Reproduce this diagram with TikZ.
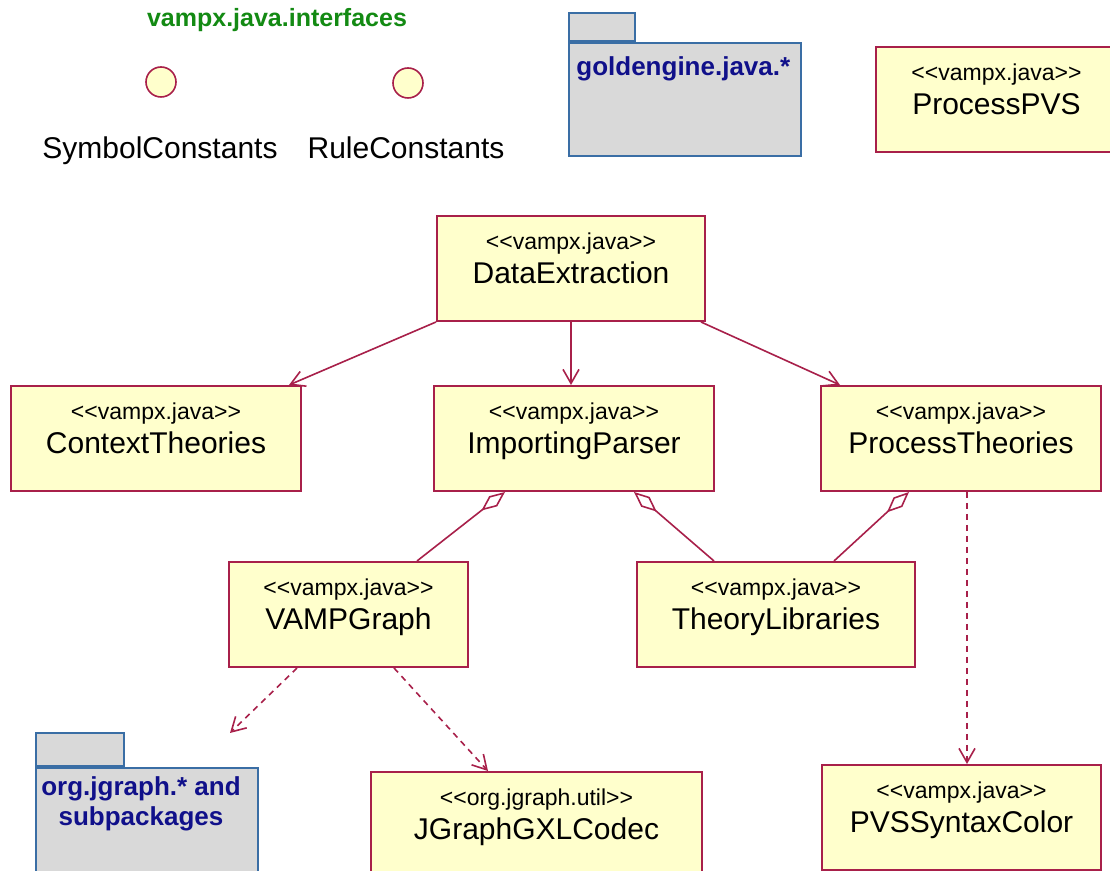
\documentclass[tikz,border=0pt]{standalone}
\usepackage{fontspec}
\setmainfont{Liberation Sans}
\usetikzlibrary{arrows.meta}
\definecolor{umlborder}{HTML}{A8204A}
\definecolor{umlfill}{HTML}{FFFFCC}
\definecolor{pkgborder}{HTML}{3A6EA5}
\definecolor{pkgfill}{HTML}{D9D9D9}
\definecolor{pkgtext}{HTML}{10108A}
\definecolor{ifacegreen}{HTML}{138A13}
\newcommand{\stereo}[1]{{\fontsize{11.5}{13}\selectfont <{}<#1>{}>}}

\begin{document}
\begin{tikzpicture}[
x=0.5pt, y=-0.5pt,
classbox/.style={
  draw=umlborder,
  fill=umlfill,
  line width=1pt,
  anchor=north west,
  minimum height=52.5pt,
  inner sep=0pt
  },
classtext/.style={
  anchor=north,
  align=center,
  inner sep=0pt,
  font=\fontsize{15}{17}\selectfont
  },
pkgbox/.style={
  draw=pkgborder,
  fill=pkgfill,
  line width=0.9pt,
  inner sep=0pt
  },
pkgname/.style={
  text=pkgtext,
  inner sep=0pt,
  font=\bfseries\fontsize{13}{15}\selectfont
  },
iface/.style={
  circle,
  draw=umlborder,
  fill=umlfill,
  line width=0.8pt,
  minimum size=15pt,
  inner sep=0pt
  },
ifacename/.style={
  anchor=base,
  inner sep=0pt,
  font=\fontsize{15}{17}\selectfont
  },
assoc/.style={
  color=umlborder,
  line width=0.8pt,
  -{Straight Barb[length=7pt,width=8pt]}
  },
dep/.style={
  assoc,
  dash pattern=on 3pt off 2.5pt
  },
aggr/.style={
  color=umlborder,
  line width=0.8pt,
  {Diamond[open,length=15pt,width=6.5pt]}-
  }
]
\path[use as bounding box, fill=white] (0,0) rectangle (1110,871);

% interfaces
\node[anchor=base, inner sep=0pt, text=ifacegreen,
  font=\bfseries\fontsize{12.5}{14}\selectfont] (ifpkg) at (277,27) {vampx.java.interfaces};
\node[iface] (symc) at (161,82) {};
\node[iface] (rulec) at (408,83) {};
\node[ifacename] (symc-t) at (160,159) {SymbolConstants};
\node[ifacename] (rulec-t) at (406,159) {RuleConstants};

% packages
\node[pkgbox, anchor=north west, minimum width=116pt, minimum height=56.5pt] (golden) at (568,42) {};
\node[pkgbox, anchor=south west, minimum width=33pt, minimum height=14pt] (golden-tab) at (golden.north west) {};
\node[pkgname, anchor=base west] (golden-t) at (576,76) {goldengine.java.*};
\node[pkgbox, anchor=north west, minimum width=111pt, minimum height=59pt] (jgraph) at (35,767) {};
\node[pkgbox, anchor=south west, minimum width=44pt, minimum height=16.5pt] (jgraph-tab) at (jgraph.north west) {};
\node[pkgname, anchor=north, align=center] (jgraph-t) at (141,776) {org.jgraph.* and\\subpackages};
\coordinate (jgraph-dep) at (230,733);

% classes
\foreach \Name/\L/\T/\R/\Pkg/\Cls in {
  pvs/875/46/1116/vampx.java/ProcessPVS,
  dataext/436/215/704/vampx.java/DataExtraction,
  context/10/385/300/vampx.java/ContextTheories,
  imppar/433/385/713/vampx.java/ImportingParser,
  proctheo/820/385/1100/vampx.java/ProcessTheories,
  vamp/228/561/467/vampx.java/VAMPGraph,
  theolib/636/561/914/vampx.java/TheoryLibraries,
  gxl/370/771/701/org.jgraph.util/JGraphGXLCodec,
  pvssyn/821/764/1100/vampx.java/PVSSyntaxColor}
{
  \node[classbox, minimum width={(\R-\L)*0.5pt}] (\Name) at (\L,\T) {};
  \node[classtext] (\Name-t) at ([yshift=-8.8pt]\Name.north) {\stereo{\Pkg}\\\Cls};
}

\path[assoc]
(dataext.south west) edge ([xshift=-6.5pt]context.north east)
(dataext.south) edge (dataext.south |- imppar.north)
([xshift=-2.5pt]dataext.south east) edge ([xshift=10pt]proctheo.north west);
\path[aggr]
([xshift=36pt]imppar.south west) edge ([xshift=94.5pt]vamp.north west)
([xshift=100.5pt]imppar.south west) edge ([xshift=39pt]theolib.north west)
([xshift=44.5pt]proctheo.south west) edge ([xshift=99pt]theolib.north west);
\path[dep]
([xshift=34.5pt]vamp.south west) edge (jgraph-dep)
([xshift=83pt]vamp.south west) edge ([xshift=59pt]gxl.north west)
([xshift=73.5pt]proctheo.south west) edge ([xshift=73pt]pvssyn.north west);
\end{tikzpicture}
\end{document}
